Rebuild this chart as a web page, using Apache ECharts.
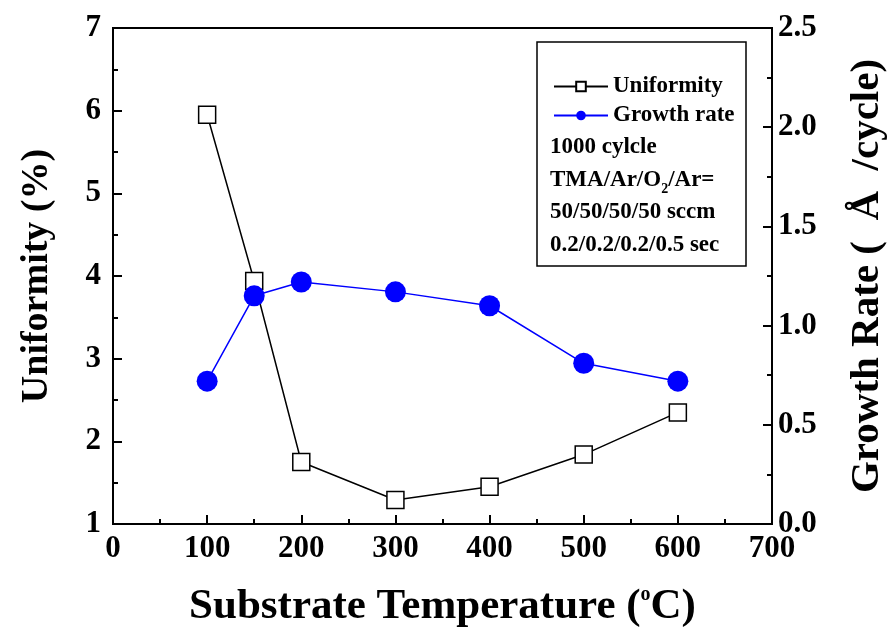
<!DOCTYPE html>
<html>
<head>
<meta charset="utf-8">
<script src="https://cdn.jsdelivr.net/npm/echarts@6/dist/echarts.min.js"></script>
<style>
  html, body { margin: 0; padding: 0; background: #fff; }
  #chart { width: 891px; height: 639px; }
</style>
</head>
<body>
<div id="chart"></div>
<script>
// temperatures (C)
var temps = [100, 150, 200, 300, 400, 500, 600];
// uniformity (%)
var uniformity = [5.95, 3.94, 1.75, 1.29, 1.45, 1.84, 2.35];
// growth rate (A/cycle)
var growthRate = [0.72, 1.15, 1.22, 1.17, 1.10, 0.81, 0.72];
var noteLines = ['1000 cylcle', 'TMA/Ar/O{sub|2}/Ar=', '50/50/50/50 sccm', '0.2/0.2/0.2/0.5 sec'];

var font = '"Liberation Serif", "Times New Roman", serif';

function pairs(xs, ys) {
    var out = [];
    for (var i = 0; i < xs.length; i++) out.push([xs[i], ys[i]]);
    return out;
}

var chart = echarts.init(document.getElementById('chart'));

var tickLabel = { color: '#000', fontFamily: font, fontWeight: 'bold', fontSize: 31 };

var option = {
    animation: false,
    backgroundColor: '#fff',
    grid: {
        left: 113, right: 119, top: 28, bottom: 115,
        outerBoundsMode: 'none',
        containLabel: false,
        show: true, borderColor: '#000', borderWidth: 2, backgroundColor: 'transparent'
    },

    // legend inside the box
    legend: {
        left: 548, top: 70,
        orient: 'vertical',
        itemWidth: 54, itemHeight: 12, itemGap: 6,
        textStyle: { color: '#000', fontFamily: font, fontWeight: 'bold', fontSize: 23 },
        data: ['Uniformity', 'Growth rate']
    },

    xAxis: {
        type: 'value', min: 0, max: 700, interval: 100,
        name: 'Substrate Temperature ({sup|o}C)',
        nameLocation: 'middle', nameGap: 61,
        nameTextStyle: {
            color: '#000', fontFamily: font, fontWeight: 'bold', fontSize: 43,
            rich: { sup: { fontFamily: font, fontWeight: 'bold', fontSize: 20, verticalAlign: 'top', padding: [0, 0, 22, 0] } }
        },
        axisLine: { lineStyle: { color: '#000', width: 2 } },
        axisTick: { inside: true, length: 9, lineStyle: { color: '#000', width: 2 } },
        minorTick: { show: true, splitNumber: 2, length: 5, lineStyle: { color: '#000', width: 2 } },
        axisLabel: Object.assign({ margin: 9 }, tickLabel),
        splitLine: { show: false }
    },

    yAxis: [{
        type: 'value', min: 1, max: 7, interval: 1,
        name: 'Uniformity (%)',
        nameLocation: 'middle', nameGap: 57, nameRotate: 90,
        nameTextStyle: { color: '#000', fontFamily: font, fontWeight: 'bold', fontSize: 38 },
        axisLine: { lineStyle: { color: '#000', width: 2 } },
        axisTick: { inside: true, length: 9, lineStyle: { color: '#000', width: 2 } },
        minorTick: { show: true, splitNumber: 2, length: 5, lineStyle: { color: '#000', width: 2 } },
        axisLabel: Object.assign({ margin: 12 }, tickLabel),
        splitLine: { show: false }
    }, {
        type: 'value', min: 0, max: 2.5, interval: 0.5,
        position: 'right',
        name: 'Growth Rate (  Å  /cycle)',
        nameLocation: 'middle', nameGap: 75, nameRotate: 90,
        nameTextStyle: { color: '#000', fontFamily: font, fontWeight: 'bold', fontSize: 41 },
        axisLine: { show: true, lineStyle: { color: '#000', width: 2 } },
        axisTick: { inside: true, length: 9, lineStyle: { color: '#000', width: 2 } },
        minorTick: { show: true, splitNumber: 2, length: 5, lineStyle: { color: '#000', width: 2 } },
        axisLabel: Object.assign({
            margin: 6,
            formatter: function (v) { return v.toFixed(1); }
        }, tickLabel),
        splitLine: { show: false }
    }],

    series: [{
        name: 'Uniformity',
        type: 'line',
        yAxisIndex: 0,
        data: pairs(temps, uniformity),
        symbol: 'rect', symbolSize: 17,
        lineStyle: { color: '#000', width: 1.5 },
        itemStyle: { color: '#fff', borderColor: '#000', borderWidth: 1.5 },
        z: 3
    }, {
        name: 'Growth rate',
        type: 'line',
        yAxisIndex: 1,
        data: pairs(temps, growthRate),
        symbol: 'circle', symbolSize: 21,
        lineStyle: { color: '#0000ff', width: 1.5 },
        itemStyle: { color: '#0000ff' },
        z: 4
    }],

    graphic: [{
        type: 'rect',
        shape: { x: 537, y: 42, width: 209, height: 224 },
        style: { fill: '#fff', stroke: '#000', lineWidth: 1.5 },
        z: 1
    }, {
        type: 'text',
        left: 550, top: 131,
        z: 10,
        style: {
            text: noteLines.join('\n'),
            fill: '#000',
            font: 'bold 23px ' + font,
            lineHeight: 32.5,
            rich: {
                sub: { font: 'bold 14px ' + font, verticalAlign: 'bottom', padding: [16, 0, 0, 0], fill: '#000' }
            }
        }
    }]
};

chart.setOption(option);
</script>
</body>
</html>
